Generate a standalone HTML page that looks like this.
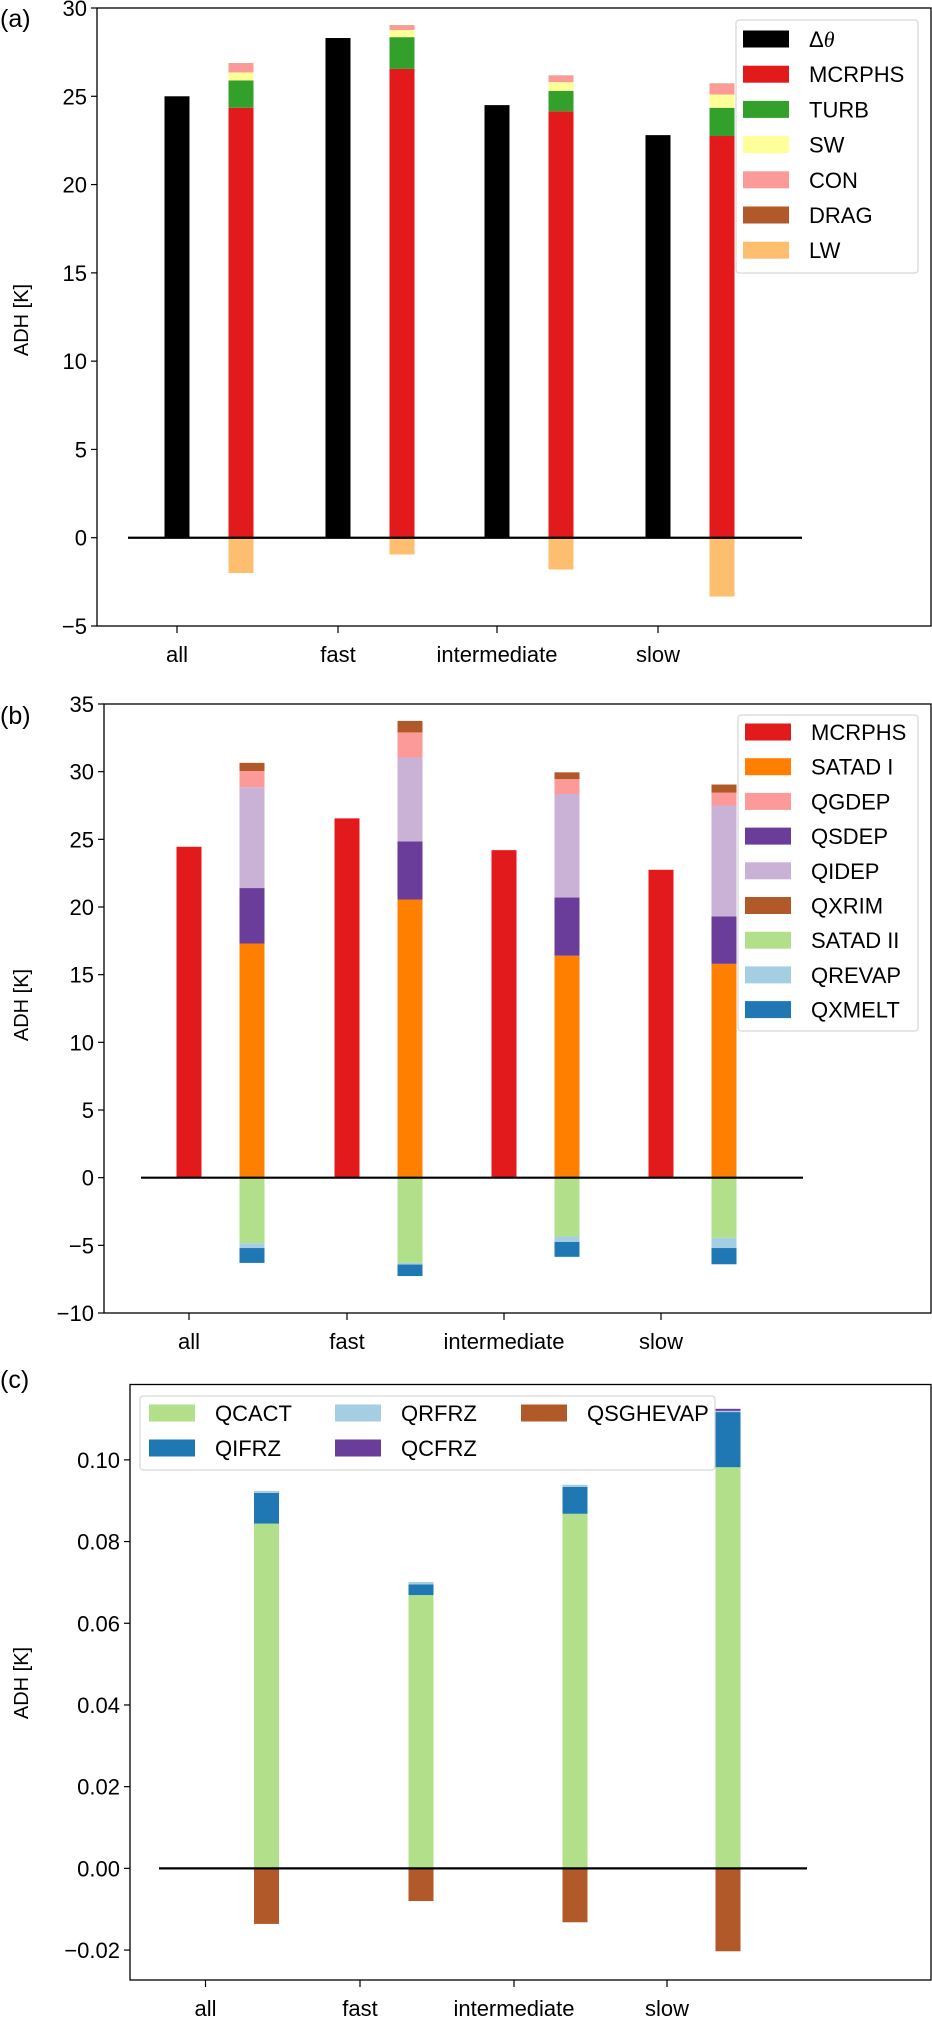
<!DOCTYPE html>
<html><head><meta charset="utf-8"><style>
html,body{margin:0;padding:0;background:#fff;}
svg{display:block;font-family:"Liberation Sans",sans-serif;}
</style></head><body>
<svg id="fig" width="932" height="2033" viewBox="0 0 932 2033" xmlns="http://www.w3.org/2000/svg"></svg>
<script>
const categories = ["all","fast","intermediate","slow"];
// Panel (a)
const aDeltaTheta = [25.0, 28.3, 24.5, 22.8];
const aMCRPHS = [24.35, 26.55, 24.15, 22.75];
const aTURB = [1.55, 1.8, 1.15, 1.6];
const aSW = [0.45, 0.4, 0.5, 0.75];
const aCON = [0.5, 0.25, 0.35, 0.6];
const aDRAG = [0.02, 0.02, 0.02, 0.02];
const aLW = [-2.0, -0.95, -1.8, -3.33];
const aTicks = [-5, 0, 5, 10, 15, 20, 25, 30];
// Panel (b)
const bMCRPHS = [24.45, 26.55, 24.2, 22.75];
const bSATAD1 = [17.3, 20.55, 16.4, 15.8];
const bQSDEP = [4.1, 4.3, 4.3, 3.5];
const bQIDEP = [7.45, 6.2, 7.65, 8.2];
const bQGDEP = [1.2, 1.85, 1.1, 0.95];
const bQXRIM = [0.6, 0.85, 0.5, 0.6];
const bSATAD2 = [-4.85, -6.3, -4.35, -4.45];
const bQREVAP = [-0.35, -0.12, -0.4, -0.75];
const bQXMELT = [-1.1, -0.85, -1.1, -1.2];
const bTicks = [-10, -5, 0, 5, 10, 15, 20, 25, 30, 35];
// Panel (c)
const cQCACT = [0.0844, 0.0669, 0.0868, 0.0982];
const cQIFRZ = [0.0075, 0.0026, 0.0066, 0.0135];
const cQRFRZ = [0.0005, 0.0006, 0.0005, 0.0003];
const cQCFRZ = [0.0, 0.0, 0.0, 0.0005];
const cQSGHEVAP = [-0.0136, -0.0080, -0.0132, -0.0203];
const cTicks = [-0.02, 0.00, 0.02, 0.04, 0.06, 0.08, 0.10];
const cTickLabels = ["\u22120.02","0.00","0.02","0.04","0.06","0.08","0.10"];

const NS = "http://www.w3.org/2000/svg";
const fig = document.getElementById("fig");
function mk(tag, attrs, parent, text){
  const e = document.createElementNS(NS, tag);
  for (const k in attrs) e.setAttribute(k, attrs[k]);
  if (text !== undefined) e.textContent = text;
  (parent || fig).appendChild(e);
  return e;
}
function fmt(v){ return v < 0 ? "\u2212" + Math.abs(v) : String(v); }

function panel(cfg){
  const g = mk("g", {});
  
  
  const y = v => cfg.top + (cfg.vmax - v) / (cfg.vmax - cfg.vmin) * (cfg.bottom - cfg.top);
  const x = i => cfg.xTicks[i];
  const pl = mk("text", {x: 0, y: cfg.labelY, "font-size": 25, fill: "#000"}, g, cfg.label);
  
  
  const bw = 25;
  cfg.series.forEach(s => {
    const base = s.base || [0,0,0,0];
    s.vals.forEach((v, i) => {
      if (!v) return;
      const b0 = base[i], b1 = base[i] + v;
      const cx = x(i) + s.off;
      const r = mk("rect", {x: cx - bw/2, y: Math.min(y(b0), y(b1)), width: bw,
        height: Math.abs(y(b1) - y(b0)), fill: s.color}, g);
      
      
    });
  });
  const zl = mk("line", {x1: cfg.zx1, x2: cfg.zx2, y1: y(0), y2: y(0), stroke: "#000", "stroke-width": 2.2}, g);
  
  
  const fr = mk("rect", {x: cfg.left, y: cfg.top, width: 931 - cfg.left, height: cfg.bottom - cfg.top,
    fill: "none", stroke: "#000", "stroke-width": 1.3}, g);
  
  
  cfg.yTicks.forEach((t, k) => {
    const ty = y(t);
    const tl = mk("line", {x1: cfg.left - 6, x2: cfg.left, y1: ty, y2: ty, stroke: "#000", "stroke-width": 1.2}, g);
    
    
    const lab = cfg.yLabels ? cfg.yLabels[k] : fmt(t);
    const tt = mk("text", {x: cfg.left - 10, y: ty + 8, "text-anchor": "end", "font-size": 22}, g, lab);
    
    
  });
  categories.forEach((c, i) => {
    const tl = mk("line", {x1: x(i), x2: x(i), y1: cfg.bottom, y2: cfg.bottom + 7, stroke: "#000", "stroke-width": 1.2}, g);
    
    
    const tt = mk("text", {x: x(i), y: cfg.bottom + 36, "text-anchor": "middle", "font-size": 22}, g, c);
    
    
  });
  const yl = mk("text", {x: 0, y: 0, "text-anchor": "middle", "font-size": 20,
    transform: "translate(" + (cfg.ylabX) + "," + cfg.ylabY + ") rotate(-90)"}, g, "ADH [K]");
  
  
  const L = cfg.legend;
  const lb = mk("rect", {x: L.x, y: L.y, width: L.w, height: L.h, rx: 3, fill: "#fff", "fill-opacity": 0.85,
    stroke: "#d6d6d6", "stroke-width": 1.2}, g);
  
  
  const colW = L.colW || 0;
  L.items.forEach((it, k) => {
    const col = L.cols ? k % L.cols : 0;
    const row = L.cols ? Math.floor(k / L.cols) : k;
    const px = L.px + col * colW, py = L.py + row * L.rowH;
    const p = mk("rect", {x: px, y: py - 8.5, width: 46, height: 17, fill: it.color}, g);
    
    
    const t = mk("text", {x: px + 66, y: py + 8, "font-size": 22}, g);
    
    
    if (it.html) {
      mk("tspan", {}, t, "\u0394");
      mk("tspan", {"font-style": "italic", "font-family": "Liberation Serif, serif"}, t, "\u03b8");
    } else t.textContent = it.label;
  });
}
function cum(arrs){ const r=[0,0,0,0]; arrs.forEach(a=>a.forEach((v,i)=>r[i]+=v)); return r; }

const aColors = {dt:"#000", mc:"#e31a1c", tu:"#33a02c", sw:"#ffff99", co:"#fb9a99", dr:"#b15928", lw:"#fdbf6f"};
panel({
  name: "panel-a", label: "(a)", labelY: 27,
  top: 8, bottom: 626, vmin: -5, vmax: 30, left: 97,
  xTicks: [177, 338, 497, 658], zx1: 128, zx2: 802,
  yTicks: aTicks, ylabX: 28, ylabY: 320,
  series: [
    {key:"delta-theta", vals: aDeltaTheta, color: aColors.dt, off: 0},
    {key:"mcrphs", vals: aMCRPHS, color: aColors.mc, off: 64},
    {key:"turb", vals: aTURB, base: cum([aMCRPHS]), color: aColors.tu, off: 64},
    {key:"sw", vals: aSW, base: cum([aMCRPHS, aTURB]), color: aColors.sw, off: 64},
    {key:"con", vals: aCON, base: cum([aMCRPHS, aTURB, aSW]), color: aColors.co, off: 64},
    {key:"drag", vals: aDRAG, base: cum([aMCRPHS, aTURB, aSW, aCON]), color: aColors.dr, off: 64},
    {key:"lw", vals: aLW, color: aColors.lw, off: 64}
  ],
  legend: {x: 736, y: 20, w: 182, h: 253, px: 743, py: 39, rowH: 35.2,
    items: [{html:true, color: aColors.dt}, {label:"MCRPHS", color:aColors.mc}, {label:"TURB", color:aColors.tu},
      {label:"SW", color:aColors.sw}, {label:"CON", color:aColors.co}, {label:"DRAG", color:aColors.dr}, {label:"LW", color:aColors.lw}]}
});

const bColors = {mc:"#e31a1c", s1:"#ff7f00", gd:"#fb9a99", sd:"#6a3d9a", id:"#cab2d6", xr:"#b15928", s2:"#b2df8a", re:"#a6cee3", xm:"#1f78b4"};
panel({
  name: "panel-b", label: "(b)", labelY: 724,
  top: 704, bottom: 1313, vmin: -10, vmax: 35, left: 104,
  xTicks: [189, 347, 504, 661], zx1: 141, zx2: 803,
  yTicks: bTicks, ylabX: 28, ylabY: 1005,
  series: [
    {key:"mcrphs", vals: bMCRPHS, color: bColors.mc, off: 0},
    {key:"satad-i", vals: bSATAD1, color: bColors.s1, off: 63},
    {key:"qsdep", vals: bQSDEP, base: cum([bSATAD1]), color: bColors.sd, off: 63},
    {key:"qidep", vals: bQIDEP, base: cum([bSATAD1, bQSDEP]), color: bColors.id, off: 63},
    {key:"qgdep", vals: bQGDEP, base: cum([bSATAD1, bQSDEP, bQIDEP]), color: bColors.gd, off: 63},
    {key:"qxrim", vals: bQXRIM, base: cum([bSATAD1, bQSDEP, bQIDEP, bQGDEP]), color: bColors.xr, off: 63},
    {key:"satad-ii", vals: bSATAD2, color: bColors.s2, off: 63},
    {key:"qrevap", vals: bQREVAP, base: cum([bSATAD2]), color: bColors.re, off: 63},
    {key:"qxmelt", vals: bQXMELT, base: cum([bSATAD2, bQREVAP]), color: bColors.xm, off: 63}
  ],
  legend: {x: 738, y: 715, w: 180, h: 316, px: 745, py: 732, rowH: 34.7,
    items: [{label:"MCRPHS", color:bColors.mc}, {label:"SATAD I", color:bColors.s1}, {label:"QGDEP", color:bColors.gd},
      {label:"QSDEP", color:bColors.sd}, {label:"QIDEP", color:bColors.id}, {label:"QXRIM", color:bColors.xr},
      {label:"SATAD II", color:bColors.s2}, {label:"QREVAP", color:bColors.re}, {label:"QXMELT", color:bColors.xm}]}
});

const cColors = {ca:"#b2df8a", rf:"#a6cee3", sg:"#b15928", if:"#1f78b4", cf:"#6a3d9a"};
panel({
  name: "panel-c", label: "(c)", labelY: 1388,
  top: 1384.5, bottom: 1980, vmin: -0.02733, vmax: 0.11845, left: 130,
  xTicks: [205.5, 360, 514, 667], zx1: 159, zx2: 807,
  yTicks: cTicks, yLabels: cTickLabels, ylabX: 28, ylabY: 1683,
  series: [
    {key:"qcact", vals: cQCACT, color: cColors.ca, off: 61},
    {key:"qifrz", vals: cQIFRZ, base: cum([cQCACT]), color: cColors.if, off: 61},
    {key:"qrfrz", vals: cQRFRZ, base: cum([cQCACT, cQIFRZ]), color: cColors.rf, off: 61},
    {key:"qcfrz", vals: cQCFRZ, base: cum([cQCACT, cQIFRZ, cQRFRZ]), color: cColors.cf, off: 61},
    {key:"qsghevap", vals: cQSGHEVAP, color: cColors.sg, off: 61}
  ],
  legend: {x: 140, y: 1396, w: 575, h: 74, px: 149, py: 1413, rowH: 35, cols: 3, colW: 186,
    items: [{label:"QCACT", color:cColors.ca}, {label:"QRFRZ", color:cColors.rf}, {label:"QSGHEVAP", color:cColors.sg},
      {label:"QIFRZ", color:cColors.if}, {label:"QCFRZ", color:cColors.cf}]}
});
</script>
</body></html>
